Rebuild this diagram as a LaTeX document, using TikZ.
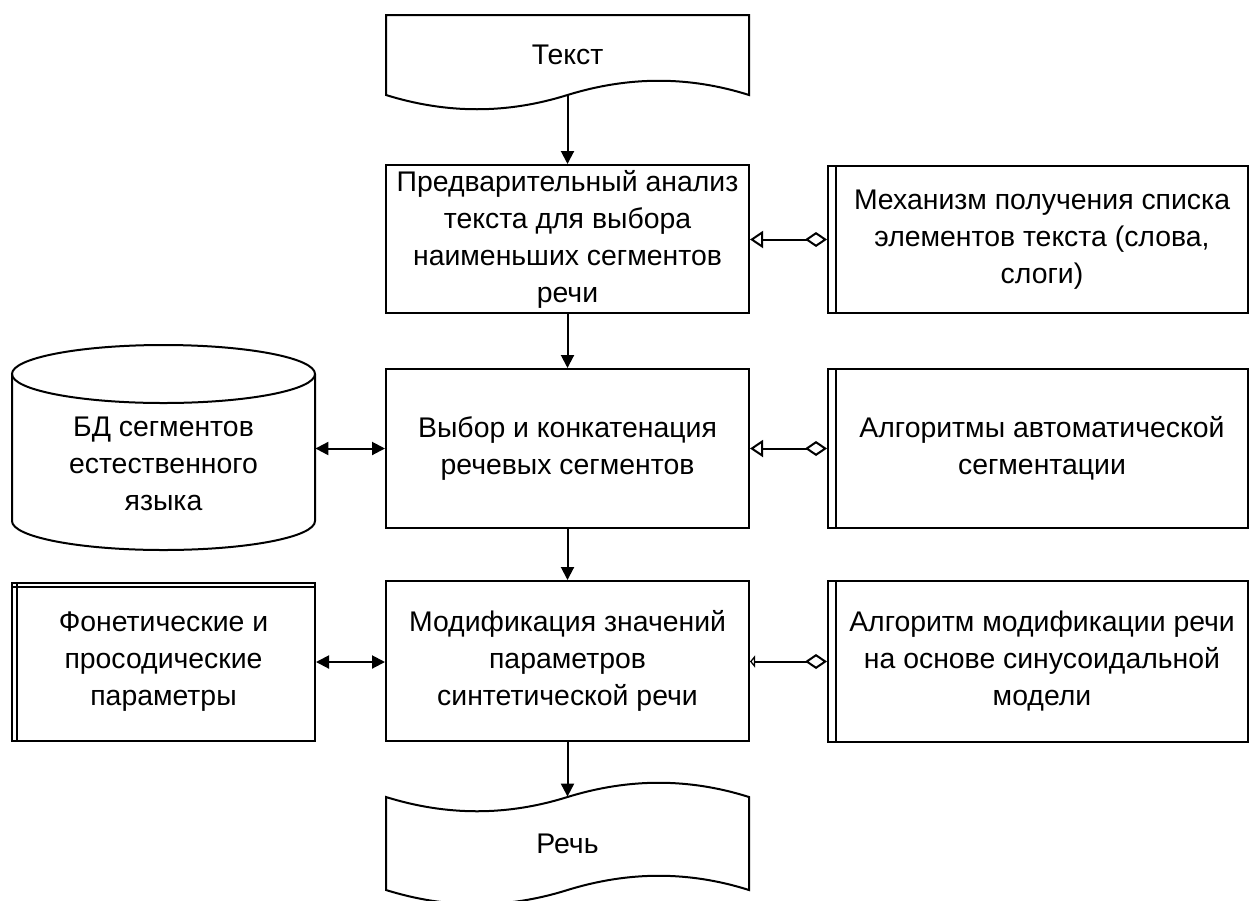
\documentclass[tikz,border=0pt]{standalone}
\usepackage{fontspec}
\setmainfont{Liberation Sans}
\usetikzlibrary{arrows.meta,calc}
\tikzset{
	every node/.style={font=\fontsize{14.2}{18.5}\selectfont, align=center, inner sep=0pt},
	proc/.style={draw, line width=1pt, minimum width=181.5pt},
	subproc/.style={draw, line width=1pt, minimum width=210pt},
	flow/.style={line width=1pt, -{Triangle[length=6.5pt, width=6.5pt]}},
	both/.style={line width=1pt, {Triangle[length=6.5pt, width=6.5pt]}-{Triangle[length=6.5pt, width=6.5pt]}},
	aggr/.style={line width=1pt, {Diamond[open, length=11pt, width=7.5pt]}-{Triangle[open, length=6.5pt, width=8.5pt]}}
}

\begin{document}
\begin{tikzpicture}[x=0.5pt, y=-0.5pt]
	\useasboundingbox (0,0) rectangle (1251,900);

	% input and output documents
	\draw[line width=1pt] (386,15) -- (749,15) -- (749,95)
		.. controls (689,76) and (629,76) .. (567.5,95)
		.. controls (507,114) and (447,114) .. (386,95) -- cycle;
	\node[minimum width=181.5pt, minimum height=40pt] (txt) at (567.5,55) {Текст};

	\draw[line width=1pt] (386,797)
		.. controls (447,816) and (507,816) .. (567.5,797)
		.. controls (629,778) and (689,778) .. (749,797) -- (749,890)
		.. controls (689,871) and (629,871) .. (567.5,890)
		.. controls (507,909) and (447,909) .. (386,890) -- cycle;
	\node[minimum width=181.5pt, minimum height=46.5pt] (speech) at (567.5,843.5) {Речь};

	% main chain
	\node[proc, minimum height=74pt] (ana) at (567.5,239) {Предварительный анализ\\текста для выбора\\наименьших сегментов\\речи};
	\node[proc, minimum height=79.5pt] (sel) at (567.5,448.5) {Выбор и конкатенация\\речевых сегментов};
	\node[proc, minimum height=80pt] (mod) at (567.5,661) {Модификация значений\\параметров\\синтетической речи};

	% right column
	\node[subproc, minimum height=73.5pt] (mech) at (1038,239.5) {\hspace*{4pt}Механизм получения списка\\\hspace*{4pt}элементов текста (слова,\\\hspace*{4pt}слоги)};
	\node[subproc, minimum height=79.5pt] (seg) at (1038,448.5) {\hspace*{4pt}Алгоритмы автоматической\\\hspace*{4pt}сегментации};
	\node[subproc, minimum height=80.5pt] (sinmod) at (1038,661.5) {\hspace*{4pt}Алгоритм модификации речи\\\hspace*{4pt}на основе синусоидальной\\\hspace*{4pt}модели};
	\foreach \n in {mech,seg,sinmod}
		\draw[line width=1pt] ([xshift=4.5pt]\n.north west) -- ([xshift=4.5pt]\n.south west);

	% database
	\draw[line width=1pt] (163.5,374) ellipse [x radius=75.75pt, y radius=14.5pt];
	\draw[line width=1pt] (12,374) -- (12,521) arc[start angle=180, end angle=360, x radius=75.75pt, y radius=14.5pt] -- (315,374);
	\node[minimum width=151.5pt] (db) at (163.5,464) {БД сегментов\\естественного\\языка};

	% parameters
	\node[draw, line width=1pt, minimum width=151.5pt, minimum height=79pt] (phon) at (163.5,662) {Фонетические и\\просодические\\параметры};
	\draw[line width=1pt] ([yshift=-2.5pt]phon.north west) -- ([yshift=-2.5pt]phon.north east);
	\draw[line width=1pt] ([xshift=3pt]phon.north west) -- ([xshift=3pt]phon.south west);

	% connectors
	\draw[flow] (txt.south) -- (ana.north);
	\draw[flow] (ana.south) -- (sel.north);
	\draw[flow] (sel.south) -- (mod.north);
	\draw[flow] (mod.south) -- (speech.north);

	\draw[both] (db.east |- sel.west) -- (sel.west);
	\draw[both] (phon.east) -- (phon.east -| mod.west);

	\draw[aggr] (mech.west) -- (mech.west -| ana.east);
	\draw[aggr] (seg.west) -- (sel.east);
	\draw[line width=1pt, {Diamond[open, length=11pt, width=7.5pt]}-{Triangle[open, length=2.5pt, width=6pt]}] (sinmod.west) -- (sinmod.west -| mod.east);
\end{tikzpicture}
\end{document}
